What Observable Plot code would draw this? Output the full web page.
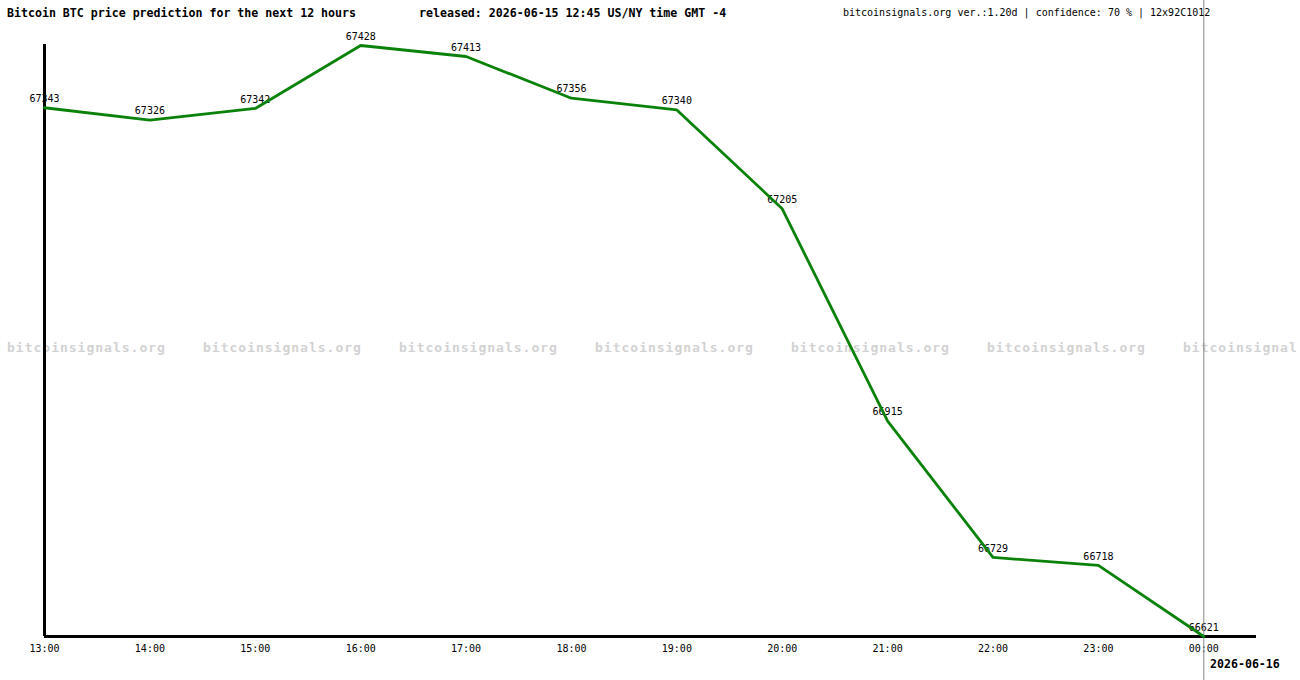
<!DOCTYPE html>
<html>
<head>
<meta charset="utf-8">
<script src="https://cdn.jsdelivr.net/npm/d3@7"></script>
<script src="https://cdn.jsdelivr.net/npm/@observablehq/plot@0.6"></script>
<style>
  html, body { margin: 0; padding: 0; background: #fff; }
  #wrap { position: relative; width: 1300px; height: 680px; overflow: hidden; font-family: "DejaVu Sans Mono", monospace; }
  .abs { position: absolute; white-space: pre; }
  .title { font-weight: bold; font-size: 11.6px; color: #000; top: 6px; }
  .hdr { font-size: 10px; color: #000; top: 7px; left: 843px; }
  .wm { font-weight: bold; font-size: 13px; letter-spacing: 1px; color: #d2d2d2; top: 340px; }
  .date { font-weight: bold; font-size: 11.6px; top: 657px; left: 1210px; }
  #chart { position: absolute; left: 0; top: 0; }
</style>
</head>
<body>
<div id="wrap">
  <div id="wmLayer"></div>
  <div id="chart"></div>
  <div class="abs title" style="left:7px">Bitcoin BTC price prediction for the next 12 hours</div>
  <div class="abs title" style="left:419px">released: 2026-06-15 12:45 US/NY time GMT -4</div>
  <div class="abs hdr">bitcoinsignals.org ver.:1.20d | confidence: 70 % | 12x92C1012</div>
  <div class="abs date">2026-06-16</div>
</div>
<script>
const hours = ["13:00","14:00","15:00","16:00","17:00","18:00","19:00","20:00","21:00","22:00","23:00","00:00"];
const prices = [67343, 67326, 67342, 67428, 67413, 67356, 67340, 67205, 66915, 66729, 66718, 66621];
const watermarks = ["bitcoinsignals.org","bitcoinsignals.org","bitcoinsignals.org","bitcoinsignals.org","bitcoinsignals.org","bitcoinsignals.org","bitcoinsignal"];

const data = hours.map((h, i) => ({i, h, p: prices[i]}));
const nowIndex = hours.length - 1;

const wmLayer = document.getElementById("wmLayer");
watermarks.forEach((t, k) => {
  const d = document.createElement("div");
  d.className = "abs wm";
  d.style.left = (7 + 196 * k) + "px";
  d.textContent = t;
  wmLayer.appendChild(d);
});

const plot = Plot.plot({
  width: 1300,
  height: 680,
  marginLeft: 44,
  marginRight: 44,
  marginTop: 45,
  marginBottom: 44,
  style: {background: "transparent", fontFamily: "DejaVu Sans Mono, monospace", fontSize: "10px", color: "#000"},
  x: {domain: [0, hours.length - 0.5], axis: null},
  y: {domain: [d3.min(prices), d3.max(prices)], axis: null},
  marks: [
    Plot.text(data, {x: "i", y: "p", text: d => String(d.p), dy: -9, fill: "#000", fontSize: 10}),
    Plot.axisX({ticks: d3.range(hours.length), tickFormat: i => hours[i], tickSize: 0, tickPadding: 8, fontSize: 10, label: null}),
    Plot.ruleX([nowIndex], {stroke: "#888", strokeWidth: 1, insetTop: -45, insetBottom: -44}),
    Plot.ruleX([0], {stroke: "#000", strokeWidth: 3, insetTop: -1}),
    Plot.ruleY([d3.min(prices)], {stroke: "#000", strokeWidth: 3}),
    Plot.line(data, {x: "i", y: "p", stroke: "#0a820a", strokeWidth: 2.8})
  ]
});
document.getElementById("chart").appendChild(plot);
</script>
</body>
</html>
